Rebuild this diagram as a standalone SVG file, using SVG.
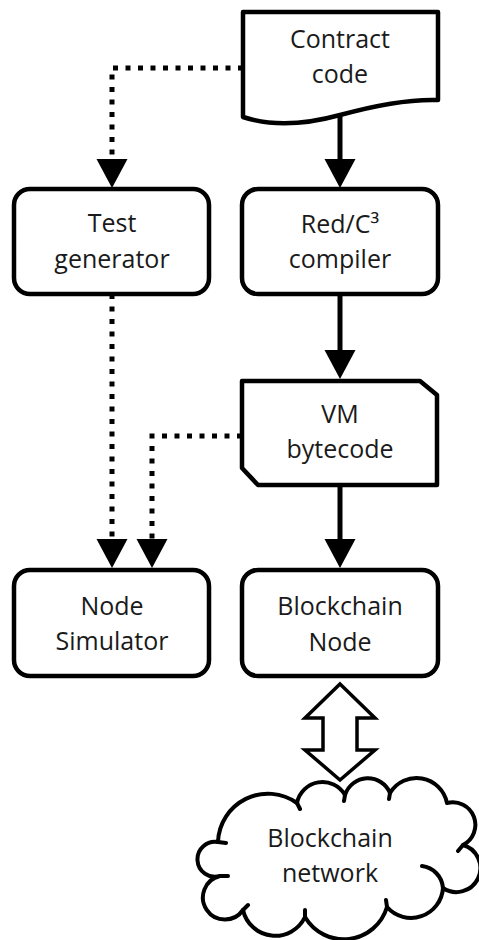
<svg xmlns="http://www.w3.org/2000/svg" width="479" height="940" viewBox="0 0 479 940">
<style>
.box{fill:#fff;stroke:#000;stroke-width:4.5;stroke-linejoin:round}
.lbl{font-family:"Open Sans","Liberation Sans",sans-serif;font-size:25px;fill:#1a1a1a;text-anchor:middle}
.solid{fill:none;stroke:#000;stroke-width:5}
.dot{fill:none;stroke:#000;stroke-width:5;stroke-dasharray:5 7.5}
.cloud{fill:#fff;stroke:#000;stroke-width:4;stroke-linejoin:round;stroke-linecap:round}
</style>
<defs>
<marker id="ah" markerUnits="userSpaceOnUse" markerWidth="30" markerHeight="32" refX="0" refY="15.5" orient="auto" viewBox="0 0 30 32">
<path d="M0,0 L29,15.5 L0,31 Z" fill="#000"/>
</marker>
</defs>
<g id="connectors">
<path class="dot" d="M243,68 H112 V159" marker-end="url(#ah)"/>
<path class="solid" d="M340,115 V159" marker-end="url(#ah)"/>
<path class="dot" d="M112,294 V539" marker-end="url(#ah)"/>
<path class="solid" d="M340,294 V350" marker-end="url(#ah)"/>
<path class="dot" d="M242,436 H152 V539" marker-end="url(#ah)"/>
<path class="solid" d="M340,485 V539" marker-end="url(#ah)"/>
<polygon id="dblarrow" points="340,684 375,718 357,718 357,750 375,750 340,780 305,750 323,750 323,718 305,718" fill="#fff" stroke="#000" stroke-width="3.5" stroke-linejoin="miter"/>
</g>
<g id="contract">
<path class="box" d="M243,12 H438 V100 C410,99 380,104 340,115 C300,126 270,126 243,117 Z"/>
<text class="lbl" x="340" y="48">Contract</text>
<text class="lbl" x="340" y="83">code</text>
</g>
<g id="testgen">
<rect class="box" x="14" y="189" width="195" height="105" rx="16"/>
<text class="lbl" x="112" y="232">Test</text>
<text class="lbl" x="112" y="268">generator</text>
</g>
<g id="compiler">
<rect class="box" x="242" y="189" width="196" height="105" rx="16"/>
<text class="lbl" x="340" y="233">Red/C³</text>
<text class="lbl" x="340" y="268">compiler</text>
</g>
<g id="vm">
<path class="box" d="M242,381 H420 L437,395 V485 H258 L242,468 Z"/>
<text class="lbl" x="340" y="423">VM</text>
<text class="lbl" x="340" y="458">bytecode</text>
</g>
<g id="nodesim">
<rect class="box" x="14" y="570" width="195" height="106" rx="16"/>
<text class="lbl" x="112" y="615">Node</text>
<text class="lbl" x="112" y="650">Simulator</text>
</g>
<g id="bcnode">
<rect class="box" x="242" y="570" width="196" height="106" rx="16"/>
<text class="lbl" x="340" y="615">Blockchain</text>
<text class="lbl" x="340" y="651">Node</text>
</g>
<g id="cloud">
<path class="cloud" d="M297,803 A26,26 0 0 1 345,795 A24,24 0 0 1 390,793 A31,31 0 0 1 447,803 A22.6,22.6 0 0 1 463,845 A24,24 0 1 1 443,888 A32,32 0 0 1 387,907 A45,45 0 0 1 305,917 A33,33 0 0 1 243,910 A22,22 0 1 1 220,876 A17.5,17.5 0 1 1 218,842 A50,50 0 0 1 297,803 Z"/>
<path class="cloud" d="M297,803 L300,809 M345,795 L344,801 M390,793 L389,799 M463,845 L458,851 M422,866 A24,24 0 0 1 443,888 M387,907 L386,900 M305,917 L305,910 M243,910 L248,905 M220,876 L228,876 M218,842 L226,843" style="fill:none"/>
<text class="lbl" x="330" y="847">Blockchain</text>
<text class="lbl" x="330" y="882">network</text>
</g>
</svg>
